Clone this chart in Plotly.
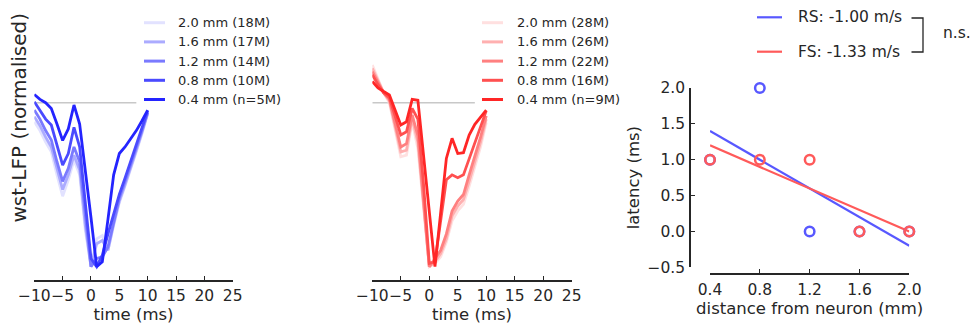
import numpy as np
import plotly.graph_objects as go

W, H = 973, 325

# ---------------- data ----------------
time_ms = list(range(-10, 11))
time_ticks = [-10, -5, 0, 5, 10, 15, 20, 25]
baseline_t = [-10, 8]
baseline_v = [0, 0]

rs_labels = ["2.0 mm (18M)", "1.6 mm (17M)", "1.2 mm (14M)", "0.8 mm (10M)", "0.4 mm (n=5M)"]
fs_labels = ["2.0 mm (28M)", "1.6 mm (26M)", "1.2 mm (22M)", "0.8 mm (16M)", "0.4 mm (n=9M)"]

rs_20 = [-0.116, -0.17, -0.24, -0.30, -0.44, -0.57, -0.47, -0.35, -0.44, -0.78, -1.0, -0.83, -0.81, -0.90, -0.75, -0.61, -0.51, -0.41, -0.30, -0.19, -0.07]
rs_16 = [-0.085, -0.14, -0.21, -0.27, -0.40, -0.53, -0.44, -0.32, -0.41, -0.75, -1.0, -0.86, -0.84, -0.90, -0.74, -0.60, -0.50, -0.40, -0.29, -0.18, -0.065]
rs_12 = [-0.045, -0.10, -0.17, -0.227, -0.36, -0.48, -0.40, -0.27, -0.36, -0.70, -1.0, -0.95, -0.94, -0.88, -0.72, -0.58, -0.48, -0.38, -0.28, -0.17, -0.06]
rs_08 = [0.006, -0.05, -0.10, -0.136, -0.26, -0.38, -0.31, -0.15, -0.27, -0.60, -0.95, -1.0, -0.93, -0.80, -0.68, -0.56, -0.46, -0.36, -0.26, -0.16, -0.05]
rs_04 = [0.05, 0.02, 0.0, -0.035, -0.13, -0.23, -0.16, -0.014, -0.13, -0.40, -0.70, -1.0, -0.97, -0.71, -0.44, -0.31, -0.27, -0.22, -0.17, -0.11, -0.045]

fs_20 = [0.23, 0.14, 0.06, 0.0, -0.16, -0.33, -0.32, -0.115, -0.28, -0.65, -1.0, -0.98, -0.94, -0.85, -0.72, -0.66, -0.62, -0.51, -0.39, -0.27, -0.12]
fs_16 = [0.21, 0.13, 0.06, 0.01, -0.14, -0.30, -0.29, -0.095, -0.24, -0.62, -1.0, -0.97, -0.92, -0.83, -0.69, -0.63, -0.59, -0.48, -0.36, -0.24, -0.10]
fs_12 = [0.19, 0.12, 0.06, 0.02, -0.12, -0.27, -0.25, -0.075, -0.20, -0.60, -1.0, -0.95, -0.90, -0.80, -0.66, -0.60, -0.56, -0.44, -0.33, -0.21, -0.08]
fs_08 = [0.17, 0.11, 0.06, 0.03, -0.08, -0.197, -0.177, -0.035, -0.10, -0.50, -0.98, -0.97, -0.72, -0.47, -0.44, -0.457, -0.44, -0.34, -0.25, -0.15, -0.05]
fs_04 = [0.13, 0.09, 0.068, 0.047, -0.045, -0.136, -0.116, 0.02, 0.015, -0.31, -0.65, -1.0, -0.67, -0.34, -0.217, -0.31, -0.305, -0.197, -0.132, -0.09, -0.045]

distance_mm = [0.4, 0.8, 1.2, 1.6, 2.0]
rs_latency = [1.0, 2.0, 0.0, 0.0, 0.0]
fs_latency = [1.0, 1.0, 1.0, 0.0, 0.0]
dist_ticks = [0.4, 0.8, 1.2, 1.6, 2.0]
lat_ticks = [-0.5, 0.0, 0.5, 1.0, 1.5, 2.0]

# ---------------- style ----------------
rs_colors = ["#e2e2ff", "#ababff", "#7a7aff", "#4a4aff", "#2424ff"]
fs_colors = ["#ffe0e0", "#ffb0b0", "#ff8080", "#ff5050", "#ff2626"]
RS_C, FS_C = "#5858ff", "#ff5a5a"
INK = "#262626"
FONT = "DejaVu Sans"


def fx(px):
    return px / W


def fy(py):
    return 1 - py / H


zero_px, unit_px = 102.7, 164.0
lfp_range = [(zero_px - 280) / unit_px, (zero_px - 20) / unit_px]

fig = go.Figure()

rs_series = [rs_20, rs_16, rs_12, rs_08, rs_04]
fs_series = [fs_20, fs_16, fs_12, fs_08, fs_04]

for ax, series, colors, labels in [("", rs_series, rs_colors, rs_labels),
                                    ("2", fs_series, fs_colors, fs_labels)]:
    fig.add_trace(go.Scatter(x=baseline_t, y=baseline_v, mode="lines",
                             line=dict(color="#c8c8c8", width=1.5),
                             xaxis="x" + ax, yaxis="y" + ax, showlegend=False,
                             hoverinfo="skip"))
    for s, c, lab in zip(series, colors, labels):
        fig.add_trace(go.Scatter(x=time_ms, y=s, mode="lines", name=lab,
                                 line=dict(color=c, width=2.8),
                                 xaxis="x" + ax, yaxis="y" + ax, showlegend=False))

# right panel fits
rs_fit = np.polyfit(distance_mm, rs_latency, 1)
fs_fit = np.polyfit(distance_mm, fs_latency, 1)
xfit = np.array([min(distance_mm), max(distance_mm)])
rs_label = "RS: %.2f m/s" % (1 / rs_fit[0])
fs_label = "FS: %.2f m/s" % (1 / fs_fit[0])
fig.add_trace(go.Scatter(x=xfit, y=np.polyval(rs_fit, xfit), mode="lines", name=rs_label,
                         line=dict(color=RS_C, width=2.2), xaxis="x3", yaxis="y3",
                         showlegend=False, cliponaxis=False))
fig.add_trace(go.Scatter(x=xfit, y=np.polyval(fs_fit, xfit), mode="lines", name=fs_label,
                         line=dict(color=FS_C, width=2.2), xaxis="x3", yaxis="y3",
                         showlegend=False, cliponaxis=False))
fig.add_trace(go.Scatter(x=distance_mm, y=rs_latency, mode="markers", name="RS",
                         marker=dict(symbol="circle-open", size=9.5, color=RS_C,
                                     line=dict(width=2.5, color=RS_C)),
                         xaxis="x3", yaxis="y3", showlegend=False, cliponaxis=False))
fig.add_trace(go.Scatter(x=distance_mm, y=fs_latency, mode="markers", name="FS",
                         marker=dict(symbol="circle-open", size=9.5, color=FS_C,
                                     line=dict(width=2.5, color=FS_C)),
                         xaxis="x3", yaxis="y3", showlegend=False, cliponaxis=False))

# ---------------- manual legends ----------------
shapes = []
annotations = []
leg_y0, leg_dy = 22.7, 19.2
for (lx0, lx1, tx), colors, labels in [((144, 165, 176), rs_colors, rs_labels),
                                       ((482, 503, 515), fs_colors, fs_labels)]:
    for i, (c, lab) in enumerate(zip(colors, labels)):
        yy = leg_y0 + leg_dy * i
        shapes.append(dict(type="line", xref="paper", yref="paper",
                           x0=fx(lx0), x1=fx(lx1), y0=fy(yy), y1=fy(yy),
                           line=dict(color=c, width=3)))
        annotations.append(dict(text=lab, xref="paper", yref="paper", x=fx(tx), y=fy(yy),
                                xanchor="left", yanchor="middle", showarrow=False,
                                font=dict(family=FONT, size=13, color=INK)))

for yy, c, lab in [(17.3, RS_C, rs_label), (51.7, FS_C, fs_label)]:
    shapes.append(dict(type="line", xref="paper", yref="paper",
                       x0=fx(757), x1=fx(782), y0=fy(yy), y1=fy(yy),
                       line=dict(color=c, width=2.2)))
    annotations.append(dict(text=lab, xref="paper", yref="paper", x=fx(796), y=fy(yy),
                            xanchor="left", yanchor="middle", showarrow=False,
                            font=dict(family=FONT, size=15.5, color=INK)))

# bracket + n.s.
shapes.append(dict(type="path", xref="paper", yref="paper",
                   path="M %f %f L %f %f L %f %f L %f %f" % (
                       fx(911.5), fy(18), fx(923), fy(18), fx(923), fy(52), fx(911.5), fy(52)),
                   line=dict(color=INK, width=1.3)))
annotations.append(dict(text="n.s.", xref="paper", yref="paper", x=fx(941), y=fy(33),
                        xanchor="left", yanchor="middle", showarrow=False,
                        font=dict(family=FONT, size=15.5, color=INK)))

# y label of the first panel
annotations.append(dict(text="wst-LFP (normalised)", xref="paper", yref="paper",
                        x=fx(18), y=fy(117.5), textangle=-90, xanchor="center",
                        yanchor="middle", showarrow=False,
                        font=dict(family=FONT, size=20, color=INK)))

# ---------------- axes ----------------
tickfont = dict(family=FONT, size=15.5, color=INK)
titlefont = dict(family=FONT, size=16.5, color=INK)

time_axis = dict(range=[-10, 25], tickvals=time_ticks, ticks="inside", ticklen=4,
                 tickwidth=1.2, tickcolor=INK, showline=True, linecolor=INK, linewidth=1.5,
                 showgrid=False, zeroline=False, tickfont=tickfont, automargin=False,
                 ticklabelstandoff=1, tickangle=0,
                 title=dict(text="time (ms)", font=titlefont, standoff=3))
lfp_axis = dict(range=lfp_range, showticklabels=False, ticks="", showline=False,
                showgrid=False, zeroline=False, domain=[fy(280), fy(20)], automargin=False)

layout = dict(
    width=W, height=H, margin=dict(l=0, r=0, t=0, b=0, autoexpand=False),
    paper_bgcolor="white", plot_bgcolor="white", showlegend=False,
    font=dict(family=FONT, color=INK),
    xaxis=dict(time_axis, domain=[fx(34.3), fx(232.7)], anchor="y"),
    yaxis=dict(lfp_axis, anchor="x"),
    xaxis2=dict(time_axis, domain=[fx(372.3), fx(571.7)], anchor="y2"),
    yaxis2=dict(lfp_axis, anchor="x2"),
    xaxis3=dict(range=[0.4, 2.0], domain=[fx(710), fx(909.3)], anchor="free", position=fy(274),
                tickvals=dist_ticks, tickformat=".1f", ticks="inside", ticklen=4, tickwidth=1.2,
                tickcolor=INK, showline=True, linecolor=INK, linewidth=1.5, showgrid=False,
                zeroline=False, tickfont=tickfont, automargin=False, ticklabelstandoff=2,
                tickangle=0,
                title=dict(text="distance from neuron (mm)", font=titlefont, standoff=2)),
    yaxis3=dict(range=[-0.5, 2.0], domain=[fy(267.3), fy(88)], anchor="free", position=fx(690),
                tickvals=lat_ticks, tickformat=".1f", ticks="inside", ticklen=4, tickwidth=1.2,
                tickcolor=INK, showline=True, linecolor=INK, linewidth=1.5, showgrid=False,
                zeroline=False, tickfont=tickfont, automargin=False, ticklabelstandoff=1,
                title=dict(text="latency (ms)", font=titlefont, standoff=3)),
    shapes=shapes, annotations=annotations,
)
fig.update_layout(layout)
fig.write_html("out.html")
